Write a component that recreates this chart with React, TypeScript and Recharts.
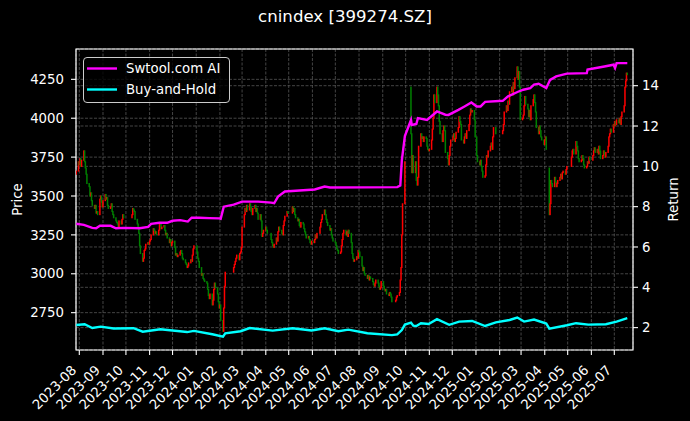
import React from 'react';
import { ComposedChart, Bar, Line, XAxis, YAxis, CartesianGrid, Legend, ReferenceArea } from 'recharts';

const FONT = '"DejaVu Sans", Verdana, sans-serif';
const DAY = 86400000;

// ---- tick labels / categories ----
const MONTH_TICKS = [
  '2023-08', '2023-09', '2023-10', '2023-11', '2023-12', '2024-01', '2024-02', '2024-03',
  '2024-04', '2024-05', '2024-06', '2024-07', '2024-08', '2024-09', '2024-10', '2024-11',
  '2024-12', '2025-01', '2025-02', '2025-03', '2025-04', '2025-05', '2025-06', '2025-07',
];
const PRICE_TICKS = [2750, 3000, 3250, 3500, 3750, 4000, 4250];
const RETURN_TICKS = [2, 4, 6, 8, 10, 12, 14];

const HOLIDAYS = [
  '2023-09-29', '2023-10-02', '2023-10-03', '2023-10-04', '2023-10-05', '2023-10-06',
  '2024-01-01', '2024-02-09', '2024-02-12', '2024-02-13', '2024-02-14', '2024-02-15', '2024-02-16',
  '2024-04-04', '2024-04-05', '2024-05-01', '2024-05-02', '2024-05-03', '2024-06-10',
  '2024-09-16', '2024-09-17', '2024-10-01', '2024-10-02', '2024-10-03', '2024-10-04', '2024-10-07',
  '2025-01-01', '2025-01-28', '2025-01-29', '2025-01-30', '2025-01-31', '2025-02-03', '2025-02-04',
  '2025-04-04', '2025-05-01', '2025-05-02', '2025-05-05', '2025-06-02',
];

// ---- daily closes, per month ----
const JUL_2023 = [3660, 3720];
const AUG_2023 = [3700, 3740, 3690, 3730, 3790, 3720, 3680, 3640, 3580, 3560, 3500, 3520, 3470, 3440, 3420, 3440, 3390, 3400, 3380, 3480, 3500, 3460, 3430];
const SEP_2023 = [3470, 3510, 3480, 3490, 3440, 3420, 3430, 3450, 3400, 3380, 3360, 3340, 3330, 3320, 3300, 3340, 3320, 3350, 3380, 3360];
const OCT_2023 = [3380, 3420, 3410, 3400, 3350, 3320, 3300, 3260, 3180, 3130, 3080, 3100, 3150, 3160, 3190, 3200, 3190];
const NOV_2023 = [3210, 3220, 3250, 3290, 3280, 3260, 3270, 3250, 3280, 3320, 3330, 3290, 3300, 3310, 3280, 3250, 3260, 3230, 3200, 3220, 3180, 3200];
const DEC_2023 = [3210, 3170, 3120, 3130, 3110, 3120, 3140, 3150, 3130, 3100, 3090, 3070, 3060, 3040, 3050, 3070, 3090, 3080, 3120, 3160, 3180];
const JAN_2024 = [3140, 3100, 3080, 3040, 2990, 3000, 2970, 2960, 2950, 2940, 2900, 2860, 2840, 2870, 2800, 2830, 2900, 2940, 2910, 2870, 2820, 2780];
const FEB_2024 = [2800, 2700, 2630, 2780, 2920, 3010, 3040, 3060, 3080, 3100, 3120, 3090, 3130, 3140, 3170];
const MAR_2024 = [3300, 3380, 3420, 3400, 3440, 3410, 3450, 3430, 3400, 3380, 3420, 3440, 3400, 3420, 3390, 3350, 3380, 3340, 3240, 3260, 3280];
const APR_2024 = [3300, 3280, 3260, 3220, 3200, 3180, 3170, 3190, 3230, 3210, 3270, 3300, 3280, 3260, 3250, 3310, 3340, 3370, 3400, 3390];
const MAY_2024 = [3430, 3400, 3420, 3380, 3360, 3340, 3350, 3310, 3300, 3330, 3320, 3290, 3270, 3250, 3230, 3240, 3220, 3200, 3190, 3210];
const JUN_2024 = [3200, 3220, 3250, 3230, 3260, 3300, 3330, 3350, 3380, 3410, 3380, 3350, 3330, 3310, 3280, 3290, 3250, 3230, 3210];
const JUL_2024 = [3200, 3180, 3160, 3150, 3130, 3140, 3180, 3220, 3260, 3280, 3250, 3270, 3240, 3280, 3260, 3200, 3130, 3100, 3080, 3090, 3110, 3100, 3150];
const AUG_2024 = [3140, 3110, 3050, 3020, 3040, 3000, 2990, 2970, 2990, 2960, 2980, 2970, 2950, 2930, 2920, 2940, 2960, 2940, 2920, 2900, 2910, 2950];
const SEP_2024 = [2920, 2900, 2890, 2900, 2870, 2860, 2880, 2870, 2850, 2820, 2830, 2850, 2860, 2880, 2960, 3040, 3250, 3450, 3720];
const OCT_2024 = [3900, 3650, 3760, 3650, 3720, 3600, 3570, 3620, 3820, 3900, 3870, 3880, 3850, 3880, 3870, 3820, 3800, 3790];
const NOV_2024 = [3800, 3860, 3930, 4000, 4150, 4100, 4200, 4150, 4080, 3980, 3900, 3850, 3920, 3950, 3920, 3780, 3740, 3700, 3760, 3820, 3860];
const DEC_2024 = [3880, 3900, 3850, 3870, 3910, 3940, 4010, 3980, 3960, 3860, 3840, 3880, 3900, 3870, 3920, 3960, 4020, 4060, 4040, 4050, 3990, 3880];
const JAN_2025 = [3760, 3720, 3700, 3730, 3690, 3660, 3620, 3630, 3700, 3760, 3750, 3790, 3820, 3840, 3800, 3880, 3940, 3900];
const FEB_2025 = [3920, 3960, 4040, 4080, 4050, 4110, 4090, 4170, 4200, 4150, 4230, 4190, 4260, 4330, 4250, 4300, 4200, 3990];
const MAR_2025 = [4000, 4020, 4080, 4140, 4090, 4060, 4010, 4050, 3990, 4080, 4120, 4150, 4100, 4040, 3940, 3900, 3950, 3920, 3880, 3860, 3830];
const APR_2025 = [3860, 3880, 3800, 3380, 3450, 3600, 3580, 3560, 3620, 3590, 3560, 3580, 3600, 3620, 3640, 3610, 3650, 3660, 3640, 3670, 3690];
const MAY_2025 = [3750, 3790, 3800, 3770, 3850, 3820, 3790, 3740, 3720, 3730, 3760, 3740, 3700, 3680, 3690, 3720, 3710, 3750, 3730];
const JUN_2025 = [3760, 3790, 3810, 3780, 3800, 3770, 3820, 3790, 3740, 3760, 3790, 3770, 3750, 3780, 3820, 3880, 3900, 3930, 3910, 3960];
const JUL_2025 = [3950, 3980, 3960, 3990, 3970, 4000, 3960, 4010, 4040, 4080, 4200, 4240, 4290, 4280];

const FIRST_OPEN = 3640;
const GAP_OPENS: [string, number][] = [['2024-10-08', 4200], ['2025-04-07', 3680]];

// ---- strategy returns (right axis) ----
const AI_RETURN: [string, number][] = [
  ['2023-07-28', 7.15], ['2023-08-07', 7.1], ['2023-08-18', 6.95], ['2023-08-23', 6.93], ['2023-08-28', 7.05],
  ['2023-09-11', 7.05], ['2023-09-18', 6.93], ['2023-09-28', 6.95], ['2023-10-19', 6.93], ['2023-10-30', 7.0],
  ['2023-11-03', 7.15], ['2023-11-14', 7.2], ['2023-11-24', 7.2], ['2023-12-01', 7.3], ['2023-12-11', 7.33],
  ['2023-12-21', 7.26], ['2023-12-26', 7.45], ['2024-01-05', 7.45], ['2024-01-18', 7.43], ['2024-01-31', 7.42],
  ['2024-02-02', 7.4], ['2024-02-06', 8.0], ['2024-02-19', 8.1], ['2024-03-01', 8.25], ['2024-03-22', 8.25],
  ['2024-04-08', 8.2], ['2024-04-12', 8.17], ['2024-04-17', 8.5], ['2024-04-26', 8.75], ['2024-05-15', 8.8],
  ['2024-06-04', 8.85], ['2024-06-17', 9.0], ['2024-06-24', 8.95], ['2024-09-20', 8.97], ['2024-09-24', 9.05],
  ['2024-09-26', 10.3], ['2024-09-30', 11.5], ['2024-10-08', 12.3], ['2024-10-09', 12.05], ['2024-10-15', 12.1],
  ['2024-10-17', 12.39], ['2024-10-29', 12.3], ['2024-11-11', 12.72], ['2024-11-22', 12.56], ['2024-11-26', 12.55],
  ['2024-12-09', 12.8], ['2024-12-17', 12.97], ['2024-12-26', 13.17], ['2025-01-02', 12.97], ['2025-01-07', 12.97],
  ['2025-01-13', 13.2], ['2025-02-05', 13.25], ['2025-02-12', 13.47], ['2025-02-25', 13.7], ['2025-03-04', 13.8],
  ['2025-03-13', 13.88], ['2025-03-18', 14.05], ['2025-03-24', 14.1], ['2025-04-03', 13.88], ['2025-04-08', 14.29],
  ['2025-04-16', 14.46], ['2025-04-30', 14.6], ['2025-05-26', 14.62], ['2025-05-27', 14.8], ['2025-06-18', 14.95],
  ['2025-06-30', 15.04], ['2025-07-02', 14.88], ['2025-07-04', 15.12], ['2025-07-18', 15.12],
];
const BH_RETURN: [string, number][] = [
  ['2023-07-28', 2.13], ['2023-08-08', 2.17], ['2023-08-18', 1.98], ['2023-08-29', 2.05], ['2023-09-15', 1.96],
  ['2023-10-11', 1.97], ['2023-10-23', 1.8], ['2023-11-15', 1.92], ['2023-12-20', 1.78], ['2023-12-29', 1.84],
  ['2024-01-22', 1.67], ['2024-02-05', 1.55], ['2024-02-08', 1.72], ['2024-02-28', 1.82], ['2024-03-11', 1.98],
  ['2024-04-10', 1.85], ['2024-05-06', 1.97], ['2024-05-31', 1.86], ['2024-06-17', 1.97], ['2024-07-05', 1.82],
  ['2024-07-18', 1.9], ['2024-08-12', 1.72], ['2024-09-13', 1.63], ['2024-09-20', 1.66], ['2024-09-26', 1.88],
  ['2024-09-30', 2.15], ['2024-10-08', 2.25], ['2024-10-11', 2.1], ['2024-10-15', 2.08], ['2024-10-21', 2.22],
  ['2024-10-31', 2.18], ['2024-11-11', 2.42], ['2024-11-27', 2.14], ['2024-12-10', 2.3], ['2024-12-27', 2.33],
  ['2025-01-13', 2.08], ['2025-01-27', 2.26], ['2025-02-14', 2.38], ['2025-02-24', 2.5], ['2025-03-05', 2.3],
  ['2025-03-18', 2.4], ['2025-04-03', 2.2], ['2025-04-07', 1.95], ['2025-04-30', 2.12], ['2025-05-12', 2.22],
  ['2025-05-28', 2.15], ['2025-06-20', 2.17], ['2025-07-04', 2.3], ['2025-07-18', 2.47],
];

const MONTHLY: [string, number[]][] = [
  ['2023-07', JUL_2023], ['2023-08', AUG_2023], ['2023-09', SEP_2023], ['2023-10', OCT_2023],
  ['2023-11', NOV_2023], ['2023-12', DEC_2023], ['2024-01', JAN_2024], ['2024-02', FEB_2024],
  ['2024-03', MAR_2024], ['2024-04', APR_2024], ['2024-05', MAY_2024], ['2024-06', JUN_2024],
  ['2024-07', JUL_2024], ['2024-08', AUG_2024], ['2024-09', SEP_2024], ['2024-10', OCT_2024],
  ['2024-11', NOV_2024], ['2024-12', DEC_2024], ['2025-01', JAN_2025], ['2025-02', FEB_2025],
  ['2025-03', MAR_2025], ['2025-04', APR_2025], ['2025-05', MAY_2025], ['2025-06', JUN_2025],
  ['2025-07', JUL_2025],
];

// ---- axis domains ----
const X_START = '2023-07-27';
const X_START_FRAC = 0.68;
const X_END = '2025-07-25';
const X_END_FRAC = 0.47;
const PRICE_DOMAIN: [number, number] = [2510, 4445];
const RETURN_DOMAIN: [number, number] = [0.89, 15.82];

// ---- helpers ----
const dayNum = (s: string) => {
  const [y, m, d] = s.split('-').map(Number);
  return Date.UTC(y, m - 1, d) / DAY;
};
const fmtMonth = (t: number) => {
  const dt = new Date(Math.round(t) * DAY);
  return `${dt.getUTCFullYear()}-${String(dt.getUTCMonth() + 1).padStart(2, '0')}`;
};
const tradingDays = (month: string) => {
  const [y, m] = month.split('-').map(Number);
  const n = new Date(Date.UTC(y, m, 0)).getUTCDate();
  const out: string[] = [];
  for (let d = 1; d <= n; d++) {
    const s = `${month}-${String(d).padStart(2, '0')}`;
    const wd = new Date(Date.UTC(y, m - 1, d)).getUTCDay();
    if (wd === 0 || wd === 6 || HOLIDAYS.includes(s)) continue;
    out.push(s);
  }
  return out;
};

const candles: { t: number; o: number; c: number; range: [number, number] }[] = [];
{
  let prev = FIRST_OPEN;
  MONTHLY.forEach(([month, closes], idx) => {
    const days = tradingDays(month);
    const used = idx === 0 ? days.slice(days.length - closes.length) : days.slice(0, closes.length);
    used.forEach((s, i) => {
      const c = closes[i];
      const gap = GAP_OPENS.find((g) => g[0] === s);
      const o = gap ? gap[1] : prev;
      candles.push({ t: dayNum(s), o, c, range: [Math.min(o, c), Math.max(o, c)] });
      prev = c;
    });
  });
}
const aiData = AI_RETURN.map(([s, v]) => ({ t: dayNum(s), v }));
const bhData = BH_RETURN.map(([s, v]) => ({ t: dayNum(s), v }));
const xTicks = MONTH_TICKS.map((m) => dayNum(`${m}-01`));
const X_DOMAIN: [number, number] = [dayNum(X_START) + X_START_FRAC, dayNum(X_END) + X_END_FRAC];

const SERIES = [
  { name: 'Swtool.com AI', color: '#ff00ff' },
  { name: 'Buy-and-Hold', color: '#00ffff' },
];

const Candle = (props: any) => {
  const { x, y, width, height, payload } = props;
  if (x == null || y == null) return null;
  const top = height < 0 ? y + height : y;
  const h = Math.max(Math.abs(height), 1.5);
  const cx = x + width / 2;
  const color = payload.c >= payload.o ? '#ff0000' : '#008000';
  return <rect x={cx - 0.75} y={top - 0.5} width={1.5} height={h + 1} fill={color} />;
};

const XTick = (props: any) => {
  const { x, y, payload } = props;
  const ax = x - 2;
  const ay = y + 14;
  return (
    <text x={ax} y={ay} transform={`rotate(-45 ${ax} ${ay})`} textAnchor="end" fill="#ffffff" fontSize={13.3} fontFamily={FONT}>
      {fmtMonth(payload.value)}
    </text>
  );
};

const LegendBox = () => (
  <div
    style={{
      width: 147,
      height: 46,
      boxSizing: 'border-box',
      border: '1px solid #cccccc',
      borderRadius: 4,
      background: 'rgba(0,0,0,0.8)',
      position: 'relative',
      fontFamily: FONT,
      fontSize: 13.3,
      color: '#ffffff',
    }}
  >
    {SERIES.map((s, i) => (
      <div key={s.name} style={{ position: 'absolute', left: 0, top: 1 + i * 21, height: 20, width: 146 }}>
        <svg width={40} height={20} style={{ position: 'absolute', left: 0, top: 0 }}>
          <line x1={3} x2={33} y1={9.5} y2={9.5} stroke={s.color} strokeWidth={2.4} />
        </svg>
        <span style={{ position: 'absolute', left: 42, top: 0, lineHeight: '19px', whiteSpace: 'nowrap' }}>{s.name}</span>
      </div>
    ))}
  </div>
);

const axisTick = { fill: '#ffffff', fontSize: 13.3, fontFamily: FONT };

export default function App() {
  return (
    <div style={{ position: 'absolute', left: 0, top: 0, width: 690, height: 421, background: '#000000', overflow: 'hidden' }}>
      <svg width={690} height={40} style={{ position: 'absolute', left: 0, top: 0 }}>
        <text x={345} y={22} textAnchor="middle" fill="#ffffff" fontSize={16.6} fontFamily={FONT}>
          cnindex [399274.SZ]
        </text>
      </svg>
      <ComposedChart width={690} height={421} data={candles} margin={{ top: 49, right: 0, bottom: 0, left: 0 }}>
        <CartesianGrid yAxisId="price" stroke="#555555" strokeDasharray="3 1.5" strokeWidth={0.8} />
        <CartesianGrid yAxisId="ret" vertical={false} stroke="#555555" strokeDasharray="3 1.5" strokeWidth={0.8} />
        <XAxis
          dataKey="t"
          type="number"
          scale="linear"
          domain={X_DOMAIN}
          allowDataOverflow
          ticks={xTicks}
          interval={0}
          height={71}
          tickSize={5}
          axisLine={false}
          tickLine={{ stroke: '#ffffff', strokeWidth: 1.1 }}
          tick={<XTick />}
        />
        <YAxis
          yAxisId="price"
          orientation="left"
          width={76}
          domain={PRICE_DOMAIN}
          allowDataOverflow
          ticks={PRICE_TICKS}
          interval={0}
          tickSize={5}
          tickMargin={7}
          axisLine={false}
          tickLine={{ stroke: '#ffffff', strokeWidth: 1.1 }}
          tick={axisTick}
          label={(p: any) => {
            const vb = p.viewBox || { x: 0, y: 49, width: 76, height: 301 };
            const lx = vb.x + 22;
            const ly = vb.y + vb.height / 2;
            return (
              <text x={lx} y={ly} transform={`rotate(-90 ${lx} ${ly})`} textAnchor="middle" fill="#ffffff" fontSize={13.3} fontFamily={FONT}>
                Price
              </text>
            );
          }}
        />
        <YAxis
          yAxisId="ret"
          orientation="right"
          width={57}
          domain={RETURN_DOMAIN}
          allowDataOverflow
          ticks={RETURN_TICKS}
          interval={0}
          tickSize={5}
          tickMargin={4}
          axisLine={false}
          tickLine={{ stroke: '#ffffff', strokeWidth: 1.1 }}
          tick={axisTick}
          label={(p: any) => {
            const vb = p.viewBox || { x: 633, y: 49, width: 57, height: 301 };
            const lx = vb.x + 45;
            const ly = vb.y + vb.height / 2;
            return (
              <text x={lx} y={ly} transform={`rotate(-90 ${lx} ${ly})`} textAnchor="middle" fill="#ffffff" fontSize={13.3} fontFamily={FONT}>
                Return
              </text>
            );
          }}
        />
        <Bar yAxisId="price" dataKey="range" barSize={1} shape={<Candle />} isAnimationActive={false} legendType="none" />
        <Line yAxisId="ret" data={aiData} dataKey="v" name="Swtool.com AI" type="linear" stroke="#ff00ff" strokeWidth={2.4} dot={false} isAnimationActive={false} />
        <Line yAxisId="ret" data={bhData} dataKey="v" name="Buy-and-Hold" type="linear" stroke="#00ffff" strokeWidth={2.4} dot={false} isAnimationActive={false} />
        <ReferenceArea
          yAxisId="price"
          x1={X_DOMAIN[0]}
          x2={X_DOMAIN[1]}
          y1={PRICE_DOMAIN[0]}
          y2={PRICE_DOMAIN[1]}
          fill="none"
          fillOpacity={0}
          stroke="#ffffff"
          strokeWidth={1.2}
          ifOverflow="visible"
        />
        <Legend
          layout="horizontal"
          verticalAlign="middle"
          align="center"
          wrapperStyle={{ left: 83, top: 57, width: 147, height: 46 }}
          content={<LegendBox />}
        />
      </ComposedChart>
    </div>
  );
}
